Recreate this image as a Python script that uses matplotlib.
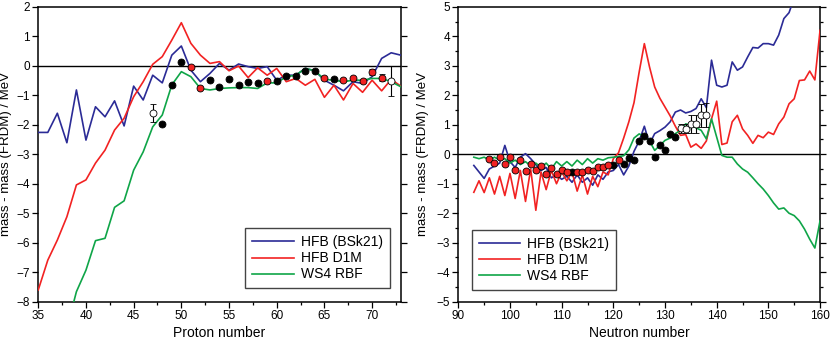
import matplotlib
matplotlib.use("Agg")
import matplotlib.pyplot as plt
import numpy as np
from matplotlib.ticker import MultipleLocator

plt.rcParams["font.family"] = ["Liberation Sans", "DejaVu Sans"]

# ---- left panel: mass difference vs proton number ----
Z = list(range(35, 74))
Z_bsk21 = [-2.26, -2.26, -1.61, -2.61, -0.82, -2.52, -1.39, -1.73, -1.19, -2.04,
           -0.69, -1.16, -0.32, -0.58, 0.36, 0.67, -0.15, -0.54, -0.26, 0.08,
           -0.15, 0.06, -0.03, -0.09, -0.03, -0.49, -0.32, -0.32, -0.09, -0.17,
           -0.49, -0.66, -0.85, -0.54, -0.60, -0.37, 0.25, 0.44, 0.36]
Z_d1m = [-7.6, -6.59, -5.91, -5.12, -4.04, -3.87, -3.3, -2.86, -2.18, -1.78,
         -1.05, -0.54, 0.05, 0.31, 0.87, 1.46, 0.76, 0.36, 0.08, 0.14,
         -0.17, -0.01, -0.40, -0.07, -0.32, -0.09, -0.54, -0.43, -0.66, -0.46,
         -1.07, -0.66, -1.16, -0.60, -0.90, -0.49, -0.85, -0.46, -0.69]
Z_ws4_start = 38
Z_ws4 = [-8.9, -7.66, -6.93, -5.93, -5.85, -4.8, -4.58, -3.54, -2.92, -2.07,
         -1.67, -0.65, -0.2, -0.37, -0.77, -0.82, -0.77, -0.75, -0.74, -0.74,
         -0.77, -0.58, -0.58, -0.37, -0.32, -0.09, -0.17, -0.46, -0.49, -0.54,
         -0.49, -0.49, -0.43, -0.43, -0.54, -0.71]

Z_black = [48, 49, 50, 53, 54, 55, 56, 57, 58, 60, 61, 62, 63, 64, 66]
Z_black_val = [-1.99, -0.65, 0.14, -0.49, -0.73, -0.46, -0.66, -0.54, -0.60,
               -0.51, -0.35, -0.35, -0.18, -0.17, -0.45]
Z_red = [51, 52, 59, 65, 67, 68, 69, 70, 71]
Z_red_val = [-0.03, -0.77, -0.51, -0.43, -0.49, -0.43, -0.51, -0.20, -0.40]
Z_red_err = [0, 0, 0, 0, 0, 0, 0, 0.10, 0.12]
Z_open = [47, 72]
Z_open_val = [-1.59, -0.51]
Z_open_err = [0.30, 0.50]

# ---- right panel: mass difference vs neutron number ----
N = list(range(93, 161))
N_bsk21 = [-0.38, -0.6, -0.82, -0.5, -0.4, -0.3, 0.3, -0.25, -0.45, -0.1,
           0.02, -0.15, -0.35, -0.55, -0.45, -0.8, -0.7, -0.85, -0.75, -0.95,
           -0.7, -0.95, -0.8, -1.05, -0.7, -0.85, -0.6, -0.55, -0.35, -0.7,
           -0.4, 0.1, 0.45, 0.95, 0.35, 0.7, 0.8, 0.92, 1.1, 1.43,
           1.5, 1.4, 1.45, 1.55, 1.88, 1.58, 3.19, 2.34, 2.28, 2.34,
           3.13, 2.85, 2.96, 3.3, 3.62, 3.6, 3.75, 3.75, 3.7, 4.04,
           4.6, 4.8, 5.3, 5.6, 5.9, 6.2, 6.5, 6.8]
N_d1m = [-1.29, -0.9, -1.3, -0.8, -1.35, -0.75, -1.4, -0.65, -1.5, -0.55,
         -1.6, -0.5, -1.9, -0.6, -1.2, -0.55, -1.0, -0.6, -0.9, -0.6,
         -1.25, -0.7, -1.35, -0.75, -1.1, -0.6, -0.7, -0.15, 0.05, 0.55,
         1.1, 1.75, 2.79, 3.75, 2.96, 2.28, 1.9, 1.6, 1.3, 0.95,
         0.64, 0.67, 0.24, 0.35, 0.2, 0.45, 1.2, 1.8, 0.33, 0.38,
         1.1, 1.32, 0.86, 0.64, 0.37, 0.64, 0.56, 0.75, 0.67, 1.03,
         1.26, 1.71, 1.88, 2.5, 2.52, 2.82, 2.52, 4.2]
N_ws4 = [-0.1, -0.15, -0.1, -0.2, -0.1, -0.2, -0.15, -0.3, -0.2, -0.35,
         -0.25, -0.4, -0.3, -0.45, -0.3, -0.5, -0.25, -0.4, -0.25, -0.4,
         -0.2, -0.35, -0.15, -0.3, -0.15, -0.2, -0.12, -0.1, -0.08, -0.05,
         0.15, 0.55, 0.69, 0.6, 0.45, 0.13, 0.3, 0.47, 0.55, 0.7,
         0.81, 1.03, 0.98, 0.9, 0.81, 0.52, 1.2, 0.58, -0.04, -0.1,
         -0.1, -0.33, -0.5, -0.61, -0.8, -1.0, -1.18, -1.4, -1.65, -1.86,
         -1.82, -2.0, -2.08, -2.26, -2.54, -2.88, -3.18, -2.26]

N_red = [96, 97, 98, 99, 100, 101, 102, 103, 104, 105, 106, 107, 108, 109,
         110, 111, 113, 114, 115, 116, 117, 118, 119, 121]
N_red_val = [-0.16, -0.29, -0.1, -0.33, -0.1, -0.52, -0.2, -0.56, -0.33, -0.52,
             -0.4, -0.67, -0.45, -0.67, -0.52, -0.6, -0.59, -0.59, -0.52, -0.56,
             -0.44, -0.44, -0.36, -0.21]
N_black = [112, 120, 122, 123, 124, 125, 126, 127, 128, 129, 130, 131, 132]
N_black_val = [-0.59, -0.35, -0.33, -0.12, -0.21, 0.44, 0.62, 0.44, -0.08,
               0.33, 0.15, 0.69, 0.6]
N_open = [133, 134, 135, 136, 137, 138]
N_open_val = [0.88, 0.86, 1.03, 1.03, 1.32, 1.34]
N_open_err = [0.15, 0.15, 0.30, 0.30, 0.40, 0.40]

labels = ["HFB (BSk21)", "HFB D1M", "WS4 RBF"]
BLUE, RED, GREEN = "#2b2b96", "#f22222", "#0fa548"
LW = 1.2
MS = 5.0

fig = plt.figure(figsize=(8.30, 3.39), dpi=100)
ax1 = fig.add_axes([0.0461, 0.110, 0.4367, 0.870])
ax2 = fig.add_axes([0.5522, 0.110, 0.4358, 0.870])


def style_axes(ax, xmaj, xmin, ymaj, ymin, label_x):
    ax.xaxis.set_major_locator(MultipleLocator(xmaj))
    ax.xaxis.set_minor_locator(MultipleLocator(xmin))
    ax.yaxis.set_major_locator(MultipleLocator(ymaj))
    if ymin:
        ax.yaxis.set_minor_locator(MultipleLocator(ymin))
    ax.tick_params(which="both", direction="out", top=False, right=True,
                   labelsize=8.5, width=0.9, pad=2)
    ax.tick_params(which="major", length=4)
    ax.tick_params(which="minor", length=2.5)
    for spine in ax.spines.values():
        spine.set_linewidth(1.1)
    ax.axhline(0, color="black", lw=1.0, zorder=1)
    ax.set_ylabel("mass - mass (FRDM) / MeV", fontsize=9.5)
    # label anchor is the right-hand edge of the rotated text
    ax.yaxis.set_label_coords(label_x, 0.5)


def draw_points(ax, xb, yb, xr, yr, xo, yo, eo, er=None):
    ax.plot(xb, yb, "o", color="black", ms=MS, mec="black", mew=0.6, zorder=5)
    if er is not None:
        ax.errorbar(xr, yr, yerr=er, fmt="o", color="black", mfc=RED, mec="black",
                    ms=MS, mew=0.6, elinewidth=0.8, capsize=2.2, capthick=0.8, zorder=5)
    else:
        ax.plot(xr, yr, "o", mfc=RED, mec="black", ms=MS, mew=0.6, zorder=5)
    ax.errorbar(xo, yo, yerr=eo, fmt="o", color="black", mfc="white", mec="black",
                ms=MS, mew=0.6, elinewidth=0.8, capsize=2.2, capthick=0.8, zorder=5)


# left panel
ax1.plot(Z, Z_bsk21, color=BLUE, lw=LW, label=labels[0], zorder=3)
ax1.plot(Z, Z_d1m, color=RED, lw=LW, label=labels[1], zorder=3)
ax1.plot(range(Z_ws4_start, Z_ws4_start + len(Z_ws4)), Z_ws4, color=GREEN, lw=LW,
         label=labels[2], zorder=3)
draw_points(ax1, Z_black, Z_black_val, Z_red, Z_red_val, Z_open, Z_open_val,
            Z_open_err, er=Z_red_err)
ax1.set_xlim(35, 73)
ax1.set_ylim(-8, 2)
style_axes(ax1, 5, 2.5, 1, None, -0.073)
ax1.set_xlabel("Proton number", fontsize=10, labelpad=3)
ax1.legend(loc="lower right", bbox_to_anchor=(0.97, 0.045), fontsize=10,
           frameon=True, fancybox=False, edgecolor="#444444", framealpha=1,
           handlelength=3.0, handletextpad=0.5, labelspacing=0.15,
           borderpad=0.5, borderaxespad=0)

# right panel
ax2.plot(N, N_bsk21, color=BLUE, lw=LW, label=labels[0], zorder=3)
ax2.plot(N, N_d1m, color=RED, lw=LW, label=labels[1], zorder=3)
ax2.plot(N, N_ws4, color=GREEN, lw=LW, label=labels[2], zorder=3)
draw_points(ax2, N_black, N_black_val, N_red, N_red_val, N_open, N_open_val,
            N_open_err)
ax2.set_xlim(90, 160)
ax2.set_ylim(-5, 5)
style_axes(ax2, 10, 5, 1, 0.5, -0.082)
ax2.set_xlabel("Neutron number", fontsize=10, labelpad=3)
ax2.legend(loc="lower left", bbox_to_anchor=(0.037, 0.04), fontsize=10,
           frameon=True, fancybox=False, edgecolor="#444444", framealpha=1,
           handlelength=3.0, handletextpad=0.5, labelspacing=0.15,
           borderpad=0.5, borderaxespad=0)

fig.savefig("out.png", dpi=100)
